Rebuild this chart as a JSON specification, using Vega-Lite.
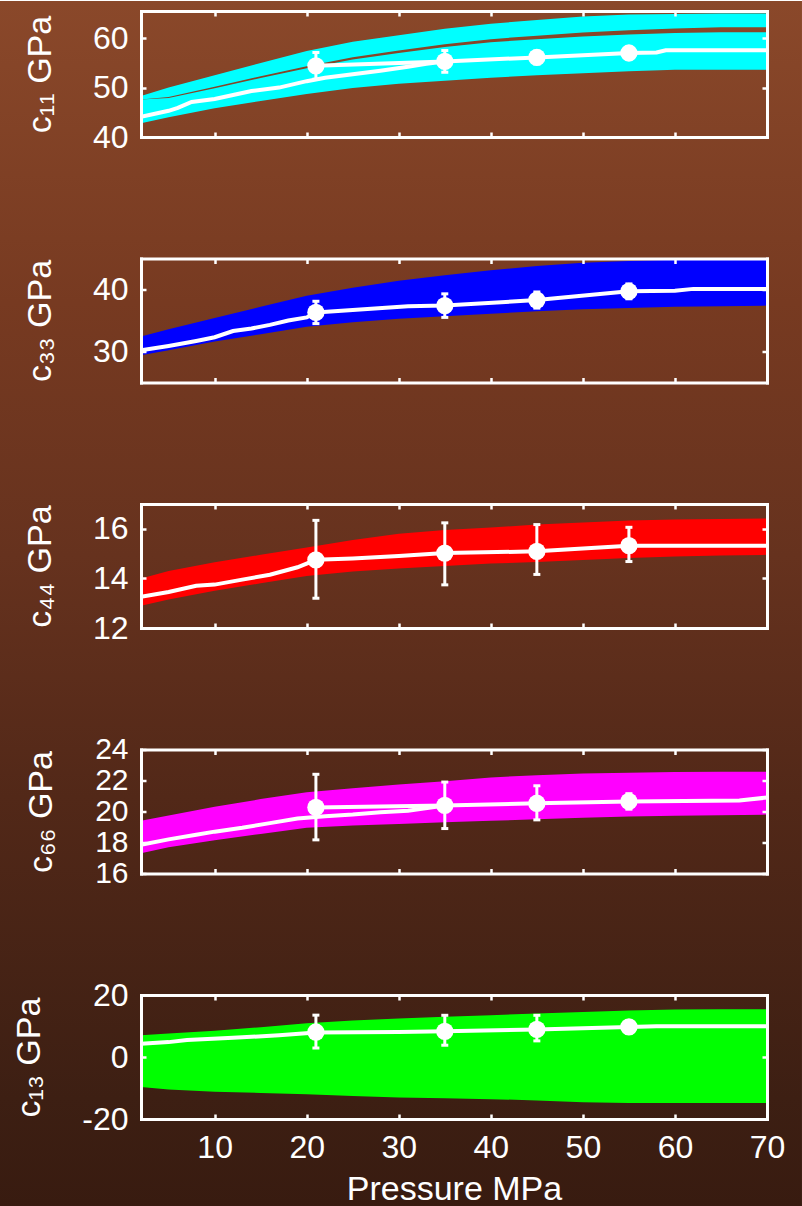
{
  "$schema": "https://vega.github.io/schema/vega-lite/v6.json",
  "padding": 0,
  "autosize": {"type": "pad"},
  "bounds": "flush",
  "spacing": 121.5,
  "config": {
    "font": "Liberation Sans",
    "view": {"stroke": null},
    "axis": {
      "grid": false,
      "domainColor": "#ffffff", "domainWidth": 3, "domainCap": "square",
      "tickColor": "#ffffff", "tickWidth": 2.5, "tickSize": -5,
      "labelColor": "#ffffff", "labelFontSize": 32, "labelPadding": 18,
      "labelFlush": false, "labelOverlap": false,
      "titleColor": "#ffffff", "titleFontSize": 34, "titleFontWeight": "normal"
    }
  },
  "datasets": {
    "bg": [{}],
    "c11_band": [
      {"p": 2, "b": 42.8, "gl": 47.6, "gu": 47.6, "t": 48.3},
      {"p": 5, "b": 44.0, "gl": 47.9, "gu": 48.1, "t": 50.0},
      {"p": 10, "b": 45.8, "gl": 49.85, "gu": 50.15, "t": 52.5},
      {"p": 15, "b": 47.3, "gl": 51.95, "gu": 52.3, "t": 55.0},
      {"p": 20, "b": 48.7, "gl": 53.9, "gu": 54.3, "t": 57.4},
      {"p": 25, "b": 49.9, "gl": 55.7, "gu": 56.15, "t": 59.3},
      {"p": 30, "b": 50.8, "gl": 57.0, "gu": 57.5, "t": 60.6},
      {"p": 35, "b": 51.4, "gl": 58.2, "gu": 58.75, "t": 61.9},
      {"p": 40, "b": 52.0, "gl": 59.2, "gu": 59.8, "t": 62.9},
      {"p": 45, "b": 52.5, "gl": 59.8, "gu": 60.5, "t": 63.7},
      {"p": 50, "b": 52.9, "gl": 60.35, "gu": 61.15, "t": 64.4},
      {"p": 55, "b": 53.3, "gl": 60.75, "gu": 61.6, "t": 64.8},
      {"p": 60, "b": 53.6, "gl": 61.05, "gu": 61.95, "t": 64.9},
      {"p": 65, "b": 53.6, "gl": 61.2, "gu": 62.2, "t": 65.0},
      {"p": 70, "b": 53.6, "gl": 61.2, "gu": 62.2, "t": 65.0}
    ],
    "c11_line": [
      {"p": 2, "v": 44.1}, {"p": 5, "v": 45.3}, {"p": 6, "v": 45.9}, {"p": 7.5, "v": 47.1},
      {"p": 10, "v": 47.7}, {"p": 14, "v": 49.3}, {"p": 17, "v": 50.0}, {"p": 20, "v": 51.3},
      {"p": 22, "v": 52.0}, {"p": 25, "v": 52.7}, {"p": 28, "v": 53.4}, {"p": 31, "v": 54.2},
      {"p": 33, "v": 54.8}, {"p": 35, "v": 55.3}, {"p": 45, "v": 56.1}, {"p": 55, "v": 57.0},
      {"p": 58, "v": 57.1}, {"p": 59, "v": 57.55}, {"p": 70, "v": 57.55}
    ],
    "c11_dline": [{"p": 21, "v": 54.4}, {"p": 35, "v": 55.3}],
    "c11_pts": [
      {"p": 21, "v": 54.4, "lo": 51.7, "hi": 57.1},
      {"p": 35, "v": 55.3, "lo": 53.1, "hi": 57.5},
      {"p": 45, "v": 56.1, "lo": 54.8, "hi": 57.4},
      {"p": 55, "v": 57.0, "lo": 55.8, "hi": 58.2}
    ],
    "c33_band": [
      {"p": 2, "lo": 29.4, "hi": 32.4}, {"p": 5, "lo": 30.2, "hi": 33.6},
      {"p": 10, "lo": 31.6, "hi": 35.4}, {"p": 15, "lo": 32.8, "hi": 37.2},
      {"p": 20, "lo": 34.0, "hi": 39.0}, {"p": 25, "lo": 34.7, "hi": 40.3},
      {"p": 30, "lo": 35.3, "hi": 41.4}, {"p": 35, "lo": 35.7, "hi": 42.3},
      {"p": 40, "lo": 36.1, "hi": 43.1}, {"p": 45, "lo": 36.5, "hi": 43.8},
      {"p": 50, "lo": 36.8, "hi": 44.3}, {"p": 55, "lo": 37.0, "hi": 44.6},
      {"p": 60, "lo": 37.2, "hi": 44.8}, {"p": 65, "lo": 37.3, "hi": 44.9},
      {"p": 70, "lo": 37.4, "hi": 44.9}
    ],
    "c33_line": [
      {"p": 2, "v": 30.2}, {"p": 5, "v": 30.9}, {"p": 8, "v": 31.7}, {"p": 10, "v": 32.3},
      {"p": 12, "v": 33.3}, {"p": 14, "v": 33.7}, {"p": 16, "v": 34.3}, {"p": 18, "v": 35.0},
      {"p": 20, "v": 35.5}, {"p": 21, "v": 36.3}, {"p": 25, "v": 36.7}, {"p": 31, "v": 37.3},
      {"p": 35, "v": 37.4}, {"p": 45, "v": 38.3}, {"p": 55, "v": 39.7}, {"p": 60, "v": 39.8},
      {"p": 62, "v": 40.1}, {"p": 70, "v": 40.1}
    ],
    "c33_pts": [
      {"p": 21, "v": 36.3, "lo": 34.5, "hi": 38.1},
      {"p": 35, "v": 37.4, "lo": 35.5, "hi": 39.3},
      {"p": 45, "v": 38.3, "lo": 37.0, "hi": 39.6},
      {"p": 55, "v": 39.7, "lo": 38.5, "hi": 40.9}
    ],
    "c44_band": [
      {"p": 2, "lo": 12.9, "hi": 14.0}, {"p": 5, "lo": 13.15, "hi": 14.3},
      {"p": 10, "lo": 13.5, "hi": 14.65}, {"p": 15, "lo": 13.8, "hi": 14.95},
      {"p": 20, "lo": 14.1, "hi": 15.25}, {"p": 25, "lo": 14.28, "hi": 15.55},
      {"p": 30, "lo": 14.4, "hi": 15.8}, {"p": 35, "lo": 14.5, "hi": 15.95},
      {"p": 40, "lo": 14.6, "hi": 16.05}, {"p": 45, "lo": 14.66, "hi": 16.17},
      {"p": 50, "lo": 14.74, "hi": 16.25}, {"p": 55, "lo": 14.82, "hi": 16.33},
      {"p": 60, "lo": 14.88, "hi": 16.37}, {"p": 65, "lo": 14.92, "hi": 16.4},
      {"p": 70, "lo": 14.95, "hi": 16.42}
    ],
    "c44_line": [
      {"p": 2, "v": 13.26}, {"p": 5, "v": 13.45}, {"p": 8, "v": 13.7}, {"p": 10, "v": 13.75},
      {"p": 13, "v": 13.95}, {"p": 16, "v": 14.15}, {"p": 19, "v": 14.45}, {"p": 21, "v": 14.75},
      {"p": 25, "v": 14.8}, {"p": 30, "v": 14.9}, {"p": 35, "v": 15.02}, {"p": 45, "v": 15.09},
      {"p": 55, "v": 15.32}, {"p": 70, "v": 15.32}
    ],
    "c44_pts": [
      {"p": 21, "v": 14.75, "lo": 13.2, "hi": 16.34},
      {"p": 35, "v": 15.02, "lo": 13.74, "hi": 16.24},
      {"p": 45, "v": 15.09, "lo": 14.16, "hi": 16.17},
      {"p": 55, "v": 15.32, "lo": 14.68, "hi": 16.06}
    ],
    "c66_band": [
      {"p": 2, "lo": 17.3, "hi": 19.4}, {"p": 5, "lo": 17.7, "hi": 19.75},
      {"p": 10, "lo": 18.15, "hi": 20.3}, {"p": 15, "lo": 18.55, "hi": 20.8},
      {"p": 20, "lo": 18.95, "hi": 21.25}, {"p": 25, "lo": 19.1, "hi": 21.5},
      {"p": 30, "lo": 19.2, "hi": 21.75}, {"p": 35, "lo": 19.3, "hi": 21.95},
      {"p": 40, "lo": 19.4, "hi": 22.2}, {"p": 45, "lo": 19.5, "hi": 22.34},
      {"p": 50, "lo": 19.6, "hi": 22.45}, {"p": 55, "lo": 19.68, "hi": 22.5},
      {"p": 60, "lo": 19.72, "hi": 22.55}, {"p": 65, "lo": 19.76, "hi": 22.56},
      {"p": 70, "lo": 19.8, "hi": 22.56}
    ],
    "c66_line": [
      {"p": 2, "v": 17.85}, {"p": 5, "v": 18.2}, {"p": 8, "v": 18.5}, {"p": 10, "v": 18.7},
      {"p": 13, "v": 18.95}, {"p": 16, "v": 19.25}, {"p": 19, "v": 19.55}, {"p": 22, "v": 19.7},
      {"p": 25, "v": 19.8}, {"p": 28, "v": 19.95}, {"p": 31, "v": 20.05}, {"p": 35, "v": 20.39},
      {"p": 45, "v": 20.53}, {"p": 55, "v": 20.65}, {"p": 67, "v": 20.71}, {"p": 70, "v": 20.9}
    ],
    "c66_dline": [{"p": 21, "v": 20.26}, {"p": 35, "v": 20.39}],
    "c66_pts": [
      {"p": 21, "v": 20.26, "lo": 18.17, "hi": 22.4},
      {"p": 35, "v": 20.39, "lo": 18.9, "hi": 21.9},
      {"p": 45, "v": 20.53, "lo": 19.46, "hi": 21.66},
      {"p": 55, "v": 20.65, "lo": 20.15, "hi": 21.15}
    ],
    "c13_band": [
      {"p": 2, "lo": -9.7, "hi": 7.0}, {"p": 5, "lo": -10.5, "hi": 7.6},
      {"p": 10, "lo": -11.2, "hi": 8.5}, {"p": 15, "lo": -11.6, "hi": 9.6},
      {"p": 20, "lo": -12.0, "hi": 10.9}, {"p": 25, "lo": -12.6, "hi": 11.8},
      {"p": 30, "lo": -13.1, "hi": 12.4}, {"p": 35, "lo": -13.3, "hi": 13.0},
      {"p": 40, "lo": -13.6, "hi": 13.5}, {"p": 45, "lo": -14.0, "hi": 14.0},
      {"p": 50, "lo": -14.6, "hi": 14.5}, {"p": 55, "lo": -14.8, "hi": 15.0},
      {"p": 60, "lo": -14.8, "hi": 15.3}, {"p": 65, "lo": -14.8, "hi": 15.4},
      {"p": 70, "lo": -14.8, "hi": 15.4}
    ],
    "c13_line": [
      {"p": 2, "v": 4.3}, {"p": 5, "v": 4.8}, {"p": 7, "v": 5.5}, {"p": 12, "v": 6.2},
      {"p": 17, "v": 7.0}, {"p": 21, "v": 7.9}, {"p": 30, "v": 8.1}, {"p": 35, "v": 8.3},
      {"p": 45, "v": 8.9}, {"p": 55, "v": 9.7}, {"p": 58, "v": 9.9}, {"p": 70, "v": 9.9}
    ],
    "c13_pts": [
      {"p": 21, "v": 8.06, "lo": 2.9, "hi": 13.5},
      {"p": 35, "v": 8.28, "lo": 3.8, "hi": 13.45},
      {"p": 45, "v": 8.9, "lo": 5.2, "hi": 13.45},
      {"p": 55, "v": 9.7, "lo": 7.7, "hi": 11.7}
    ]
  },
  "vconcat": [
    {
      "width": 626, "height": 126,
      "resolve": {"axis": {"x": "independent", "y": "independent"}},
      "layer": [
        {
          "data": {"name": "bg"},
          "mark": {"type": "rect", "clip": false, "fill": {"gradient": "linear", "x1": 0, "y1": 0, "x2": 0, "y2": 1, "stops": [
            {"offset": 0, "color": "#8a482a"}, {"offset": 0.25, "color": "#773a21"}, {"offset": 0.46, "color": "#66321e"},
            {"offset": 0.66, "color": "#522818"}, {"offset": 0.91, "color": "#3d1f13"}, {"offset": 1, "color": "#381b10"}]}},
          "encoding": {
            "x": {"datum": -13.316, "type": "quantitative", "scale": {"domain": [2, 70], "nice": false, "zero": false}, "axis": null},
            "x2": {"datum": 73.8},
            "y": {"datum": 67.524, "type": "quantitative", "scale": {"domain": [40, 65.5], "nice": false, "zero": false}, "axis": null},
            "y2": {"datum": -176.55}
          }
        },
        {
          "data": {"name": "c11_band"},
          "mark": {"type": "area", "color": "#00ffff", "clip": true},
          "encoding": {
            "x": {"field": "p", "type": "quantitative", "scale": {"domain": [2, 70], "nice": false, "zero": false},
                  "axis": {"orient": "bottom", "zindex": 1, "values": [10, 20, 30, 40, 50, 60, 70], "labels": false, "title": null}},
            "y": {"field": "b", "type": "quantitative", "scale": {"domain": [40, 65.5], "nice": false, "zero": false},
                  "axis": {"orient": "left", "zindex": 1, "values": [40, 50, 60], "title": "c₁₁ GPa", "titlePadding": 35}},
            "y2": {"field": "gl"}
          }
        },
        {
          "data": {"name": "c11_band"},
          "mark": {"type": "area", "color": "#00ffff", "clip": true},
          "encoding": {
            "x": {"field": "p", "type": "quantitative", "axis": null},
            "y": {"field": "gu", "type": "quantitative", "axis": null},
            "y2": {"field": "t"}
          }
        },
        {
          "data": {"name": "c11_line"},
          "mark": {"type": "line", "color": "#ffffff", "strokeWidth": 4, "clip": true},
          "encoding": {"x": {"field": "p", "type": "quantitative", "axis": null}, "y": {"field": "v", "type": "quantitative", "axis": null}}
        },
        {
          "data": {"name": "c11_dline"},
          "mark": {"type": "line", "color": "#ffffff", "strokeWidth": 4, "clip": true},
          "encoding": {"x": {"field": "p", "type": "quantitative", "axis": null}, "y": {"field": "v", "type": "quantitative", "axis": null}}
        },
        {
          "data": {"name": "c11_pts"},
          "mark": {"type": "rule", "color": "#ffffff", "strokeWidth": 3},
          "encoding": {"x": {"field": "p", "type": "quantitative", "axis": null}, "y": {"field": "lo", "type": "quantitative", "axis": null}, "y2": {"field": "hi"}}
        },
        {
          "data": {"name": "c11_pts"},
          "mark": {"type": "tick", "color": "#ffffff", "orient": "horizontal", "size": 7, "thickness": 3, "opacity": 1},
          "encoding": {"x": {"field": "p", "type": "quantitative", "axis": null}, "y": {"field": "lo", "type": "quantitative", "axis": null}}
        },
        {
          "data": {"name": "c11_pts"},
          "mark": {"type": "tick", "color": "#ffffff", "orient": "horizontal", "size": 7, "thickness": 3, "opacity": 1},
          "encoding": {"x": {"field": "p", "type": "quantitative", "axis": null}, "y": {"field": "hi", "type": "quantitative", "axis": null}}
        },
        {
          "data": {"name": "c11_pts"},
          "mark": {"type": "point", "filled": true, "color": "#ffffff", "size": 300, "opacity": 1},
          "encoding": {
            "x": {"field": "p", "type": "quantitative", "axis": {"orient": "top", "zindex": 1, "values": [10, 20, 30, 40, 50, 60, 70], "labels": false, "title": null}},
            "y": {"field": "v", "type": "quantitative", "axis": {"orient": "right", "zindex": 1, "values": [40, 50, 60], "labels": false, "title": null}}
          }
        }
      ]
    },
    {
      "width": 626, "height": 124,
      "resolve": {"axis": {"x": "independent", "y": "independent"}},
      "layer": [
        {
          "data": {"name": "c33_band"},
          "mark": {"type": "area", "color": "#0000ff", "clip": true},
          "encoding": {
            "x": {"field": "p", "type": "quantitative", "scale": {"domain": [2, 70], "nice": false, "zero": false},
                  "axis": {"orient": "bottom", "zindex": 1, "values": [10, 20, 30, 40, 50, 60, 70], "labels": false, "title": null}},
            "y": {"field": "lo", "type": "quantitative", "scale": {"domain": [25, 45], "nice": false, "zero": false},
                  "axis": {"orient": "left", "zindex": 1, "values": [30, 40], "title": "c₃₃ GPa", "titlePadding": 35}},
            "y2": {"field": "hi"}
          }
        },
        {
          "data": {"name": "c33_line"},
          "mark": {"type": "line", "color": "#ffffff", "strokeWidth": 4, "clip": true},
          "encoding": {"x": {"field": "p", "type": "quantitative", "axis": null}, "y": {"field": "v", "type": "quantitative", "axis": null}}
        },
        {
          "data": {"name": "c33_pts"},
          "mark": {"type": "rule", "color": "#ffffff", "strokeWidth": 3},
          "encoding": {"x": {"field": "p", "type": "quantitative", "axis": null}, "y": {"field": "lo", "type": "quantitative", "axis": null}, "y2": {"field": "hi"}}
        },
        {
          "data": {"name": "c33_pts"},
          "mark": {"type": "tick", "color": "#ffffff", "orient": "horizontal", "size": 7, "thickness": 3, "opacity": 1},
          "encoding": {"x": {"field": "p", "type": "quantitative", "axis": null}, "y": {"field": "lo", "type": "quantitative", "axis": null}}
        },
        {
          "data": {"name": "c33_pts"},
          "mark": {"type": "tick", "color": "#ffffff", "orient": "horizontal", "size": 7, "thickness": 3, "opacity": 1},
          "encoding": {"x": {"field": "p", "type": "quantitative", "axis": null}, "y": {"field": "hi", "type": "quantitative", "axis": null}}
        },
        {
          "data": {"name": "c33_pts"},
          "mark": {"type": "point", "filled": true, "color": "#ffffff", "size": 300, "opacity": 1},
          "encoding": {
            "x": {"field": "p", "type": "quantitative", "axis": {"orient": "top", "zindex": 1, "values": [10, 20, 30, 40, 50, 60, 70], "labels": false, "title": null}},
            "y": {"field": "v", "type": "quantitative", "axis": {"orient": "right", "zindex": 1, "values": [30, 40], "labels": false, "title": null}}
          }
        }
      ]
    },
    {
      "width": 626, "height": 124,
      "resolve": {"axis": {"x": "independent", "y": "independent"}},
      "layer": [
        {
          "data": {"name": "c44_band"},
          "mark": {"type": "area", "color": "#ff0000", "clip": true},
          "encoding": {
            "x": {"field": "p", "type": "quantitative", "scale": {"domain": [2, 70], "nice": false, "zero": false},
                  "axis": {"orient": "bottom", "zindex": 1, "values": [10, 20, 30, 40, 50, 60, 70], "labels": false, "title": null}},
            "y": {"field": "lo", "type": "quantitative", "scale": {"domain": [12, 17], "nice": false, "zero": false},
                  "axis": {"orient": "left", "zindex": 1, "values": [12, 14, 16], "title": "c₄₄ GPa", "titlePadding": 35}},
            "y2": {"field": "hi"}
          }
        },
        {
          "data": {"name": "c44_line"},
          "mark": {"type": "line", "color": "#ffffff", "strokeWidth": 4, "clip": true},
          "encoding": {"x": {"field": "p", "type": "quantitative", "axis": null}, "y": {"field": "v", "type": "quantitative", "axis": null}}
        },
        {
          "data": {"name": "c44_pts"},
          "mark": {"type": "rule", "color": "#ffffff", "strokeWidth": 3},
          "encoding": {"x": {"field": "p", "type": "quantitative", "axis": null}, "y": {"field": "lo", "type": "quantitative", "axis": null}, "y2": {"field": "hi"}}
        },
        {
          "data": {"name": "c44_pts"},
          "mark": {"type": "tick", "color": "#ffffff", "orient": "horizontal", "size": 7, "thickness": 3, "opacity": 1},
          "encoding": {"x": {"field": "p", "type": "quantitative", "axis": null}, "y": {"field": "lo", "type": "quantitative", "axis": null}}
        },
        {
          "data": {"name": "c44_pts"},
          "mark": {"type": "tick", "color": "#ffffff", "orient": "horizontal", "size": 7, "thickness": 3, "opacity": 1},
          "encoding": {"x": {"field": "p", "type": "quantitative", "axis": null}, "y": {"field": "hi", "type": "quantitative", "axis": null}}
        },
        {
          "data": {"name": "c44_pts"},
          "mark": {"type": "point", "filled": true, "color": "#ffffff", "size": 300, "opacity": 1},
          "encoding": {
            "x": {"field": "p", "type": "quantitative", "axis": {"orient": "top", "zindex": 1, "values": [10, 20, 30, 40, 50, 60, 70], "labels": false, "title": null}},
            "y": {"field": "v", "type": "quantitative", "axis": {"orient": "right", "zindex": 1, "values": [12, 14, 16], "labels": false, "title": null}}
          }
        }
      ]
    },
    {
      "width": 626, "height": 124,
      "resolve": {"axis": {"x": "independent", "y": "independent"}},
      "layer": [
        {
          "data": {"name": "c66_band"},
          "mark": {"type": "area", "color": "#ff00ff", "clip": true},
          "encoding": {
            "x": {"field": "p", "type": "quantitative", "scale": {"domain": [2, 70], "nice": false, "zero": false},
                  "axis": {"orient": "bottom", "zindex": 1, "values": [10, 20, 30, 40, 50, 60, 70], "labels": false, "title": null}},
            "y": {"field": "lo", "type": "quantitative", "scale": {"domain": [16, 24], "nice": false, "zero": false},
                  "axis": {"orient": "left", "zindex": 1, "values": [16, 18, 20, 22, 24], "labelFontSize": 30, "title": "c₆₆ GPa", "titlePadding": 36}},
            "y2": {"field": "hi"}
          }
        },
        {
          "data": {"name": "c66_line"},
          "mark": {"type": "line", "color": "#ffffff", "strokeWidth": 4, "clip": true},
          "encoding": {"x": {"field": "p", "type": "quantitative", "axis": null}, "y": {"field": "v", "type": "quantitative", "axis": null}}
        },
        {
          "data": {"name": "c66_dline"},
          "mark": {"type": "line", "color": "#ffffff", "strokeWidth": 4, "clip": true},
          "encoding": {"x": {"field": "p", "type": "quantitative", "axis": null}, "y": {"field": "v", "type": "quantitative", "axis": null}}
        },
        {
          "data": {"name": "c66_pts"},
          "mark": {"type": "rule", "color": "#ffffff", "strokeWidth": 3},
          "encoding": {"x": {"field": "p", "type": "quantitative", "axis": null}, "y": {"field": "lo", "type": "quantitative", "axis": null}, "y2": {"field": "hi"}}
        },
        {
          "data": {"name": "c66_pts"},
          "mark": {"type": "tick", "color": "#ffffff", "orient": "horizontal", "size": 7, "thickness": 3, "opacity": 1},
          "encoding": {"x": {"field": "p", "type": "quantitative", "axis": null}, "y": {"field": "lo", "type": "quantitative", "axis": null}}
        },
        {
          "data": {"name": "c66_pts"},
          "mark": {"type": "tick", "color": "#ffffff", "orient": "horizontal", "size": 7, "thickness": 3, "opacity": 1},
          "encoding": {"x": {"field": "p", "type": "quantitative", "axis": null}, "y": {"field": "hi", "type": "quantitative", "axis": null}}
        },
        {
          "data": {"name": "c66_pts"},
          "mark": {"type": "point", "filled": true, "color": "#ffffff", "size": 300, "opacity": 1},
          "encoding": {
            "x": {"field": "p", "type": "quantitative", "axis": {"orient": "top", "zindex": 1, "values": [10, 20, 30, 40, 50, 60, 70], "labels": false, "title": null}},
            "y": {"field": "v", "type": "quantitative", "axis": {"orient": "right", "zindex": 1, "values": [16, 18, 20, 22, 24], "labels": false, "title": null}}
          }
        }
      ]
    },
    {
      "width": 626, "height": 124,
      "resolve": {"axis": {"x": "independent", "y": "independent"}},
      "layer": [
        {
          "data": {"name": "c13_band"},
          "mark": {"type": "area", "color": "#00ff00", "clip": true},
          "encoding": {
            "x": {"field": "p", "type": "quantitative", "scale": {"domain": [2, 70], "nice": false, "zero": false},
                  "axis": {"orient": "bottom", "zindex": 1, "values": [10, 20, 30, 40, 50, 60, 70], "labels": true, "title": "Pressure MPa", "titleFontSize": 34, "titlePadding": 9}},
            "y": {"field": "lo", "type": "quantitative", "scale": {"domain": [-20, 20], "nice": false, "zero": false},
                  "axis": {"orient": "left", "zindex": 1, "values": [-20, 0, 20], "labelExpr": "replace(datum.label, '−', '-')", "title": "c₁₃ GPa", "titlePadding": 35}},
            "y2": {"field": "hi"}
          }
        },
        {
          "data": {"name": "c13_line"},
          "mark": {"type": "line", "color": "#ffffff", "strokeWidth": 4, "clip": true},
          "encoding": {"x": {"field": "p", "type": "quantitative", "axis": null}, "y": {"field": "v", "type": "quantitative", "axis": null}}
        },
        {
          "data": {"name": "c13_pts"},
          "mark": {"type": "rule", "color": "#ffffff", "strokeWidth": 3},
          "encoding": {"x": {"field": "p", "type": "quantitative", "axis": null}, "y": {"field": "lo", "type": "quantitative", "axis": null}, "y2": {"field": "hi"}}
        },
        {
          "data": {"name": "c13_pts"},
          "mark": {"type": "tick", "color": "#ffffff", "orient": "horizontal", "size": 7, "thickness": 3, "opacity": 1},
          "encoding": {"x": {"field": "p", "type": "quantitative", "axis": null}, "y": {"field": "lo", "type": "quantitative", "axis": null}}
        },
        {
          "data": {"name": "c13_pts"},
          "mark": {"type": "tick", "color": "#ffffff", "orient": "horizontal", "size": 7, "thickness": 3, "opacity": 1},
          "encoding": {"x": {"field": "p", "type": "quantitative", "axis": null}, "y": {"field": "hi", "type": "quantitative", "axis": null}}
        },
        {
          "data": {"name": "c13_pts"},
          "mark": {"type": "point", "filled": true, "color": "#ffffff", "size": 300, "opacity": 1},
          "encoding": {
            "x": {"field": "p", "type": "quantitative", "axis": {"orient": "top", "zindex": 1, "values": [10, 20, 30, 40, 50, 60, 70], "labels": false, "title": null}},
            "y": {"field": "v", "type": "quantitative", "axis": {"orient": "right", "zindex": 1, "values": [-20, 0, 20], "labels": false, "title": null}}
          }
        }
      ]
    }
  ]
}
